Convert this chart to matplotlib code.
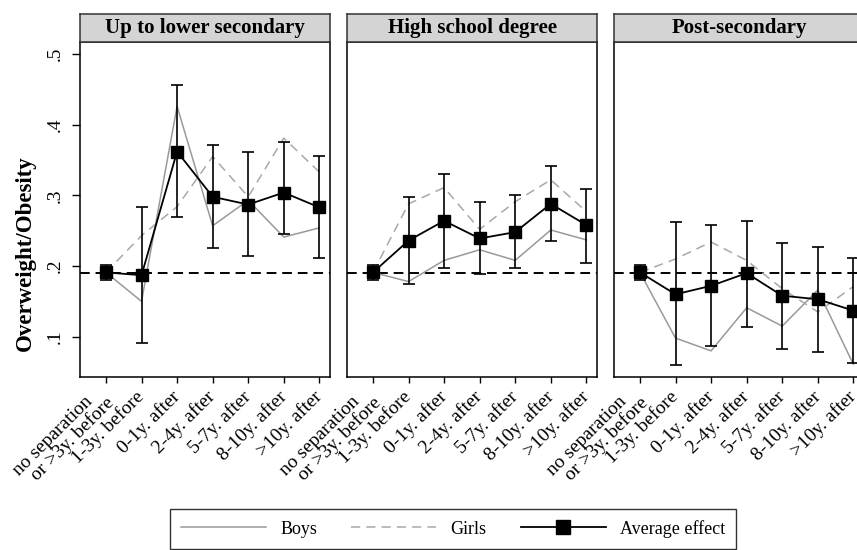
import numpy as np
import matplotlib
matplotlib.use("Agg")
import matplotlib.pyplot as plt
from matplotlib.lines import Line2D

# Data
categories = ["no separation   \nor >3y. before", "1-3y. before", "0-1y. after",
              "2-4y. after", "5-7y. after", "8-10y. after", ">10y. after"]
panels = ["Up to lower secondary", "High school degree", "Post-secondary"]

avg_low = [0.191, 0.187, 0.362, 0.298, 0.287, 0.304, 0.283]
ci_lo_low = [0.180, 0.091, 0.269, 0.226, 0.214, 0.245, 0.212]
ci_hi_low = [0.201, 0.284, 0.456, 0.371, 0.361, 0.375, 0.355]
boys_low = [0.191, 0.150, 0.426, 0.257, 0.293, 0.241, 0.254]
girls_low = [0.191, 0.243, 0.284, 0.355, 0.298, 0.381, 0.333]

avg_high = [0.191, 0.236, 0.264, 0.239, 0.248, 0.288, 0.258]
ci_lo_high = [0.180, 0.174, 0.197, 0.189, 0.197, 0.235, 0.204]
ci_hi_high = [0.201, 0.297, 0.330, 0.291, 0.300, 0.341, 0.309]
boys_high = [0.191, 0.178, 0.208, 0.223, 0.208, 0.251, 0.237]
girls_high = [0.191, 0.288, 0.311, 0.252, 0.291, 0.322, 0.277]

avg_post = [0.191, 0.160, 0.172, 0.190, 0.158, 0.153, 0.137]
ci_lo_post = [0.180, 0.060, 0.087, 0.114, 0.083, 0.079, 0.063]
ci_hi_post = [0.202, 0.263, 0.258, 0.264, 0.233, 0.227, 0.212]
boys_post = [0.191, 0.098, 0.080, 0.141, 0.115, 0.166, 0.061]
girls_post = [0.191, 0.210, 0.234, 0.208, 0.168, 0.135, 0.171]

baseline = 0.19

series = [
    (avg_low, ci_lo_low, ci_hi_low, boys_low, girls_low),
    (avg_high, ci_lo_high, ci_hi_high, boys_high, girls_high),
    (avg_post, ci_lo_post, ci_hi_post, boys_post, girls_post),
]

plt.rcParams['font.family'] = 'serif'
plt.rcParams['font.serif'] = ['Liberation Serif', 'DejaVu Serif']
plt.rcParams['font.size'] = 14

fig = plt.figure(figsize=(8.57, 5.5), dpi=100)
W, H = 857.0, 550.0

x = np.arange(len(categories))
lefts = [80, 347, 614]
for i, (name, (avg, lo, hi, boys, girls)) in enumerate(zip(panels, series)):
    ax = fig.add_axes([lefts[i] / W, 1 - 377 / H, 250 / W, 335 / H])
    ax.plot(x, boys, color='#999999', lw=1.1, zorder=2)
    ax.plot(x, girls, color='#a8a8a8', lw=1.1, ls=(0, (6, 4)), zorder=2)
    avg = np.array(avg)
    ax.errorbar(x, avg, yerr=[avg - np.array(lo), np.array(hi) - avg],
                fmt='none', ecolor='black', elinewidth=1.2, capsize=4,
                capthick=1.2, zorder=3)
    ax.plot(x, avg, color='black', lw=1.3, marker='s', markersize=8,
            zorder=4)
    ax.axhline(baseline, color='black', lw=1.4, ls=(0, (5, 3)), zorder=1)

    ax.set_xlim(-0.73, 6.3)
    ax.set_ylim(0.043, 0.517)
    ax.set_xticks(x)
    ax.set_xticklabels(categories, rotation=45, ha='right', va='center',
                       rotation_mode='anchor', multialignment='right',
                       fontsize=14, linespacing=0.95)
    ax.tick_params(axis='x', direction='out', length=4, width=1, pad=8.5)
    ax.set_yticks([0.1, 0.2, 0.3, 0.4, 0.5])
    if i == 0:
        ax.set_yticklabels(['.1', '.2', '.3', '.4', '.5'], rotation=90,
                           va='center', fontsize=14)
        ax.tick_params(axis='y', direction='out', length=6, width=1, pad=6)
    else:
        ax.tick_params(axis='y', length=0, labelleft=False)
    for s in ax.spines.values():
        s.set_linewidth(1.1)
        s.set_color('black')

    # strip with panel title
    sax = fig.add_axes([lefts[i] / W, 1 - 42 / H, 250 / W, 28 / H])
    sax.set_facecolor('#d4d4d4')
    sax.set_xticks([])
    sax.set_yticks([])
    for s in sax.spines.values():
        s.set_linewidth(1.1)
        s.set_color('#333333')
    sax.text(0.5, 0.5, name, ha='center', va='center', fontsize=15,
             fontweight='bold', transform=sax.transAxes)

fig.text(25 / W, 1 - 253 / H, "Overweight/Obesity", rotation=90,
         ha='center', va='center', fontsize=16.5, fontweight='bold')

handles = [
    Line2D([], [], color='#999999', lw=1.1),
    Line2D([], [], color='#a8a8a8', lw=1.1, ls=(0, (6, 4))),
    Line2D([], [], color='black', lw=1.3, marker='s', markersize=10),
]
leg = fig.legend(handles, ["Boys", "Girls", "Average effect"], ncol=3,
                 loc='upper left', bbox_to_anchor=(170 / W, 1 - 509 / H),
                 frameon=True, fancybox=False, handlelength=4.7,
                 columnspacing=1.9, handletextpad=0.8, fontsize=13,
                 borderpad=0.6, borderaxespad=0)
leg.get_frame().set_edgecolor('black')
leg.get_frame().set_linewidth(1.0)

fig.savefig("out.png", dpi=100)
